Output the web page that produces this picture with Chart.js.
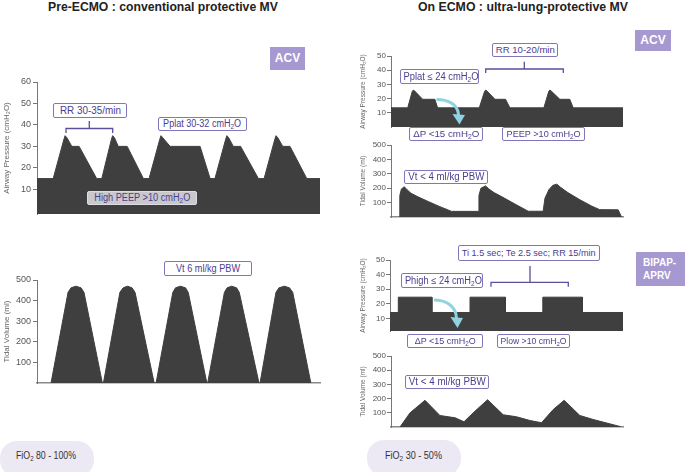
<!DOCTYPE html>
<html>
<head>
<meta charset="utf-8">
<script src="https://cdn.jsdelivr.net/npm/chart.js@4.4.1/dist/chart.umd.min.js"></script>
<style>
  body { margin:0; width:685px; height:472px; position:relative; overflow:hidden; background:#fff;
         font-family:"Liberation Sans", Arial, sans-serif; }
  canvas { position:absolute; }
  .title { position:absolute; top:0; font-weight:bold; font-size:12px; color:#222; white-space:nowrap; }
  .box { position:absolute; box-sizing:border-box; border:1px solid #8077b8; background:#fff; color:#4b3d8f;
         border-radius:2px; text-align:center; white-space:nowrap; z-index:2; }
  .badge { position:absolute; background:#a698d0; color:#fff; font-weight:bold; z-index:2; }
  .pill { position:absolute; background:#ece9f4; color:#333; border-radius:17px; white-space:nowrap; }
  .t { display:inline-block; transform-origin:center top; }
  .pill .t, .title .t { transform-origin:left top; }
  sub { font-size:70%; vertical-align:-2px; line-height:0; }
  svg { position:absolute; left:0; top:0; z-index:3; }
</style>
</head>
<body>

<div class="title" style="left:47.7px"><span class="t" data-w="230">Pre-ECMO : conventional protective MV</span></div>
<div class="title" style="left:418px"><span class="t" data-w="210">On ECMO : ultra-lung-protective MV</span></div>

<div class="badge" style="left:270px;top:47px;width:35px;height:23px;line-height:23px;text-align:center;font-size:12px">ACV</div>
<div class="badge" style="left:635px;top:30px;width:36px;height:21px;line-height:21px;text-align:center;font-size:12px">ACV</div>
<div class="badge" style="left:636px;top:252px;width:49px;height:34px;font-size:10px;line-height:13px;padding:4px 0 0 7px;box-sizing:border-box">BIPAP-<br>APRV</div>

<div class="box" style="left:53px;top:103px;width:74px;height:15px;line-height:13px;font-size:10.5px"><span class="t" data-w="61">RR 30-35/min</span></div>
<div class="box" style="left:158px;top:117px;width:89px;height:14px;line-height:12px;font-size:10px"><span class="t" data-w="78">Pplat 30-32 cmH<sub>2</sub>O</span></div>
<div class="box" style="left:87px;top:191px;width:110px;height:14px;line-height:12px;font-size:10px;background:#c9c8cd;border-color:#dddce2"><span class="t" data-w="96">High PEEP &gt;10 cmH<sub>2</sub>O</span></div>
<div class="box" style="left:164px;top:261px;width:88px;height:15px;line-height:13px;font-size:10px"><span class="t" data-w="64">Vt 6 ml/kg PBW</span></div>
<div class="pill" style="left:0;top:441px;width:94px;height:36px;line-height:30px;padding-left:16px;box-sizing:border-box;font-size:10px"><span class="t" data-w="60">FiO<sub>2</sub> 80 - 100%</span></div>

<div class="box" style="left:492px;top:43px;width:66px;height:14px;line-height:12px;font-size:9.5px"><span class="t" data-w="59">RR 10-20/min</span></div>
<div class="box" style="left:400px;top:69px;width:79px;height:15px;line-height:13px;font-size:10px"><span class="t" data-w="75">Pplat ≤ 24 cmH<sub>2</sub>O</span></div>
<div class="box" style="left:409px;top:127px;width:74px;height:14px;line-height:12px;font-size:9.5px"><span class="t" data-w="66">ΔP &lt;15 cmH<sub>2</sub>O</span></div>
<div class="box" style="left:502px;top:127px;width:83px;height:14px;line-height:12px;font-size:9.5px"><span class="t" data-w="74">PEEP &gt;10 cmH<sub>2</sub>O</span></div>
<div class="box" style="left:404px;top:170px;width:84px;height:14px;line-height:12px;font-size:10px"><span class="t" data-w="76">Vt &lt; 4 ml/kg PBW</span></div>
<div class="box" style="left:458px;top:245px;width:142px;height:16px;line-height:14px;font-size:9.5px"><span class="t" data-w="134">Ti 1.5 sec; Te 2.5 sec; RR 15/min</span></div>
<div class="box" style="left:401px;top:273px;width:82px;height:15px;line-height:13px;font-size:10px"><span class="t" data-w="77">Phigh ≤ 24 cmH<sub>2</sub>O</span></div>
<div class="box" style="left:407px;top:334px;width:76px;height:14px;line-height:12px;font-size:9.5px"><span class="t" data-w="61">ΔP &lt;15 cmH<sub>2</sub>O</span></div>
<div class="box" style="left:497px;top:334px;width:73px;height:14px;line-height:12px;font-size:8.5px"><span class="t" data-w="66">Plow &gt;10 cmH<sub>2</sub>O</span></div>
<div class="box" style="left:405px;top:375px;width:84px;height:14px;line-height:12px;font-size:10px"><span class="t" data-w="77">Vt &lt; 4 ml/kg PBW</span></div>
<div class="pill" style="left:367px;top:440px;width:94px;height:36px;line-height:31px;padding-left:18px;box-sizing:border-box;font-size:10px"><span class="t" data-w="57">FiO<sub>2</sub> 30 - 50%</span></div>

<svg width="685" height="472">
  <g stroke="#5b4f9c" stroke-width="1.3" fill="none">
    <path d="M66 133 V128.5 H112.7 V133 M89.3 121 V128.5"/>
    <path d="M485.7 73 V69 H563.3 V73 M524.3 61.7 V69"/>
    <path d="M491 286.7 V282.3 H568.3 V286.7 M530 266 V282.3"/>
  </g>
  <g stroke="#8fd3e2" stroke-width="3" fill="none">
    <path d="M436.5 99.5 C448 99.5 458 104 458.5 115"/>
    <path d="M434 300 C446 300 456 306 456.5 318"/>
  </g>
  <g fill="#8fd3e2">
    <path d="M452.5 114 L465 115 L459.5 124.5 Z"/>
    <path d="M450.5 317 L463 318 L457.5 328 Z"/>
  </g>
</svg>

<script>
// ---- data (time in seconds) ----
// Pre-ECMO airway pressure (cmH2O)
const leftPressT = [0, 0.60,
                    0.99, 1.04, 1.11, 1.29, 1.56, 2.21, 2.40,
                    2.75, 2.80, 2.87, 3.01, 3.34, 3.94, 4.15,
                    4.54, 4.59, 4.66, 4.93, 6.04, 6.41, 6.59,
                    6.98, 7.03, 7.10, 7.27, 7.54, 8.20, 8.41,
                    8.80, 8.85, 8.92, 9.10, 9.37, 9.99, 10.48];
const leftPressP = [15, 15,
                    33, 35, 34, 30, 30, 15, 15,
                    33, 35, 34, 30, 30, 15, 15,
                    33, 35, 34, 30, 30, 15, 15,
                    33, 35, 34, 30, 30, 15, 15,
                    33, 35, 34, 30, 30, 15, 15];
// Pre-ECMO tidal volume (ml)
const leftVolT = [0.52, 1.15, 1.26, 1.44, 1.63, 1.74, 2.42,
                  2.46, 3.07, 3.19, 3.35, 3.52, 3.63, 4.34,
                  4.41, 5.03, 5.13, 5.31, 5.50, 5.60, 6.29,
                  6.32, 6.94, 7.04, 7.21, 7.39, 7.49, 8.22,
                  8.26, 8.85, 8.96, 9.16, 9.35, 9.47, 10.14];
const leftVolV = [0, 440, 462, 470, 462, 440, 0,
                  0, 440, 462, 470, 462, 440, 0,
                  0, 440, 462, 470, 462, 440, 0,
                  0, 440, 462, 470, 462, 440, 0,
                  0, 440, 462, 470, 462, 440, 0];
// On ECMO, ACV airway pressure
const acvPressT = [0, 0.93, 1.18, 1.24, 1.32, 1.76, 2.44, 2.59,
                   4.91, 5.20, 5.26, 5.34, 5.78, 6.37, 6.61,
                   8.50, 8.77, 8.83, 8.91, 9.39, 9.94, 10.13, 12.9];
const acvPressP = [13.5, 13.5, 25, 26, 25.3, 19.5, 19.5, 13.5,
                   13.5, 25, 26, 25.3, 19.5, 19.5, 13.5,
                   13.5, 25, 26, 25.3, 19.5, 19.5, 13.5, 13.5];
// On ECMO, ACV tidal volume
const acvVolT = [0.46, 0.49, 0.58, 0.74, 0.89, 1.11, 1.50, 2.06, 2.72, 3.37,
                 4.85, 4.89, 5.00, 5.26, 5.44, 5.72, 6.17, 6.89, 7.63,
                 8.46, 8.56, 8.78, 9.00, 9.22, 9.44, 9.83, 10.50, 11.17, 11.61, 12.63, 12.82];
const acvVolV = [0, 150, 195, 210, 190, 165, 140, 108, 72, 39,
                 39, 150, 200, 216, 195, 170, 140, 90, 40,
                 40, 130, 190, 220, 228, 205, 170, 120, 75, 51, 50, 0];
// On ECMO, BIPAP-APRV airway pressure
const bipPressT = [0, 0.46, 0.46, 2.32, 2.32, 4.43, 4.43, 6.39, 6.39, 8.46, 8.46, 10.65, 10.65, 12.9];
const bipPressP = [14, 14, 24.5, 24.5, 14, 14, 24.5, 24.5, 14, 14, 24.5, 24.5, 14, 14];
// On ECMO, BIPAP-APRV tidal volume
const bipVolT = [0.50, 1.06, 1.89, 2.72, 3.56, 4.06, 4.57, 5.37, 6.24, 6.98, 7.72, 8.37, 9.02, 9.63, 10.50, 11.24, 12.78];
const bipVolV = [0, 100, 188, 81, 65, 37, 100, 192, 86, 72, 46, 30, 123, 188, 81, 53, 2];

const pressTicksLeft = [10, 20, 30, 40, 50, 60];
const pressTicksRight = [10, 20, 30, 40, 50];
const volTicks = [100, 200, 300, 400, 500];

const FILL = '#3f3f3f';
Chart.defaults.font.family = '"Liberation Sans", Arial, sans-serif';

// squeeze/stretch label text to the width it has in the figure
document.querySelectorAll('.t').forEach(el => {
  const w = el.getBoundingClientRect().width;
  el.style.transform = 'scaleX(' + (el.dataset.w / w).toFixed(3) + ')';
});

function wave(g, xs, ys, ticks, yTitle) {
  const c = document.createElement('canvas');
  c.width = g.w; c.height = g.h;
  c.style.left = g.left + 'px'; c.style.top = g.top + 'px';
  document.body.appendChild(c);
  const small = g.small;
  new Chart(c, {
    type: 'line',
    data: { datasets: [{
      data: xs.map((x, i) => ({ x: x, y: ys[i] })),
      fill: 'start', backgroundColor: FILL, borderColor: FILL, borderWidth: 1,
      pointRadius: 0, tension: 0
    }] },
    options: {
      responsive: false, animation: false, events: [],
      layout: { padding: { top: 8, bottom: 2, right: 2, left: 0 } },
      plugins: { legend: { display: false }, tooltip: { enabled: false } },
      scales: {
        x: {
          type: 'linear', min: 0, max: g.xMax, display: g.showX,
          ticks: { display: false }, grid: { display: false },
          border: { display: true, color: '#8a8a8a', width: 1.5 },
          afterFit: s => { s.height = 0; }
        },
        y: {
          min: g.yMin, max: g.yMax,
          afterBuildTicks: s => { s.ticks = ticks.map(v => ({ value: v })); },
          afterFit: s => { s.width = g.axisW; s.paddingTop = 0; s.paddingBottom = 0; },
          ticks: { font: { size: small ? 8 : 9 }, color: '#555', padding: small ? 1 : 2 },
          grid: { drawOnChartArea: false, tickLength: 4, color: '#777' },
          border: { color: '#777' },
          title: { display: true, text: yTitle, color: '#666',
                   font: { size: small ? 6.5 : 8 }, padding: { top: small ? 14 : 2, bottom: 0 } }
        }
      }
    }
  });
}

// left column
wave({ left: 0, top: 74, w: 322, h: 142, axisW: 37, xMax: 10.48, yMin: -1.5, yMax: 60, showX: false },
     leftPressT, leftPressP, pressTicksLeft, 'Airway Pressure (cmH₂O)');
wave({ left: 0, top: 272, w: 322, h: 113, axisW: 37, xMax: 10.48, yMin: 0, yMax: 500, showX: true },
     leftVolT, leftVolV, volTicks, 'Tidal Volume (ml)');
// right column
wave({ left: 345, top: 48, w: 280, h: 81, axisW: 46, xMax: 12.9, yMin: 0, yMax: 50, showX: false, small: true },
     acvPressT, acvPressP, pressTicksRight, 'Airway Pressure (cmH₂O)');
wave({ left: 345, top: 137, w: 280, h: 82, axisW: 46, xMax: 12.9, yMin: 0, yMax: 500, showX: true, small: true },
     acvVolT, acvVolV, volTicks, 'Tidal Volume (ml)');
wave({ left: 345, top: 252, w: 280, h: 81, axisW: 45, xMax: 12.9, yMin: 1.3, yMax: 50, showX: false, small: true },
     bipPressT, bipPressP, pressTicksRight, 'Airway Pressure (cmH₂O)');
wave({ left: 345, top: 348, w: 280, h: 81, axisW: 46, xMax: 12.9, yMin: 0, yMax: 500, showX: true, small: true },
     bipVolT, bipVolV, volTicks, 'Tidal Volume (ml)');
</script>
</body>
</html>
